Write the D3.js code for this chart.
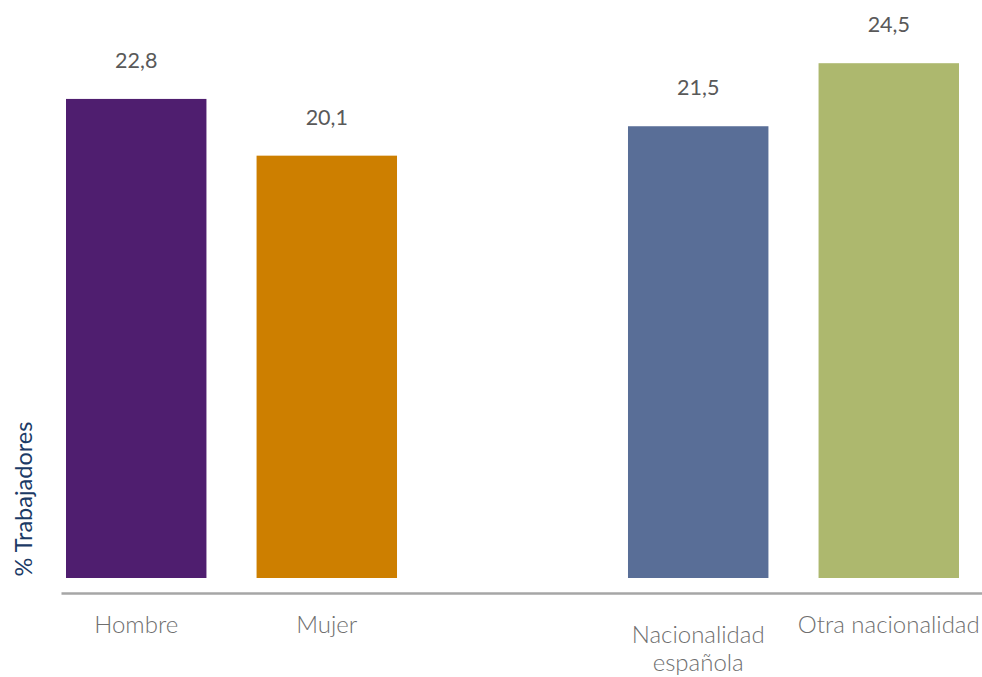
<!DOCTYPE html>
<html>
<head>
<meta charset="utf-8">
<script src="https://cdn.jsdelivr.net/npm/d3@7"></script>
<style>
  html, body { margin: 0; padding: 0; background: #ffffff; }
  svg { display: block; }
</style>
</head>
<body>
<svg id="chart" width="982" height="677"></svg>
<script>
const categories = ["Hombre", "Mujer", "Nacionalidad española", "Otra nacionalidad"];
const groups = ["Sexo", "Sexo", "Nacionalidad", "Nacionalidad"];
const values = [22.8, 20.1, 21.5, 24.5];
const valueLabels = ["22,8", "20,1", "21,5", "24,5"];
const labelLines = [["Hombre"], ["Mujer"], ["Nacionalidad", "española"], ["Otra nacionalidad"]];
const colors = ["#4f1e6f", "#cd7f00", "#596e97", "#adb86e"];
const yTitle = "% Trabajadores";

const svg = d3.select("#chart");
const baseY = 578;

const y = d3.scaleLinear().domain([0, 25]).range([baseY, 52.7]);

const groupNames = Array.from(new Set(groups));
const xGroup = d3.scaleBand().domain(groupNames).range([66, 959]).paddingInner(0.411).paddingOuter(0);
const xInner = {};
groupNames.forEach(g => {
  const cats = categories.filter((c, i) => groups[i] === g);
  xInner[g] = d3.scaleBand().domain(cats).range([0, xGroup.bandwidth()]).paddingInner(0.263).paddingOuter(0);
});
const xPos = i => xGroup(groups[i]) + xInner[groups[i]](categories[i]);
const bw = i => xInner[groups[i]].bandwidth();

const data = categories.map((c, i) => ({ i, c, v: values[i] }));

// bars
svg.append("g").selectAll("rect").data(data).join("rect")
  .attr("x", d => xPos(d.i))
  .attr("y", d => y(d.v))
  .attr("width", d => bw(d.i))
  .attr("height", d => y(0) - y(d.v))
  .attr("fill", d => colors[d.i]);

// value labels
svg.append("g").selectAll("text").data(data).join("text")
  .attr("x", d => xPos(d.i) + bw(d.i) / 2)
  .attr("y", d => y(d.v) - 31)
  .attr("text-anchor", "middle")
  .attr("font-family", "Lato, 'Open Sans', sans-serif")
  .attr("font-size", 21.5)
  .attr("fill", "#595959")
  .text(d => valueLabels[d.i]);

// x axis line
const axisScale = d3.scaleLinear().domain([0, 1]).range([61, 982]);
const axisG = svg.append("g").attr("transform", `translate(0,${593})`)
  .call(d3.axisBottom(axisScale).tickValues([]).tickSizeOuter(0));
axisG.select(".domain").attr("stroke", "#a6a6a6").attr("stroke-width", 2.5);

// category labels
const lab = svg.append("g")
  .attr("font-family", "Lato, 'Open Sans', sans-serif")
  .attr("font-weight", 300)
  .attr("font-size", 24)
  .attr("fill", "#6f6f6f")
  .attr("text-anchor", "middle");
data.forEach(d => {
  const lines = labelLines[d.i];
  const cx = xPos(d.i) + bw(d.i) / 2;
  const y0 = lines.length > 1 ? 643 : 633;
  lines.forEach((l, k) => {
    lab.append("text").attr("x", cx).attr("y", y0 + k * 28).text(l);
  });
});

// y title
svg.append("text")
  .attr("transform", `translate(32,${499}) rotate(-90)`)
  .attr("text-anchor", "middle")
  .attr("font-family", "Lato, 'Open Sans', sans-serif")
  .attr("font-size", 23.5)
  .attr("fill", "#1b3a66")
  .text(yTitle);
</script>
</body>
</html>
